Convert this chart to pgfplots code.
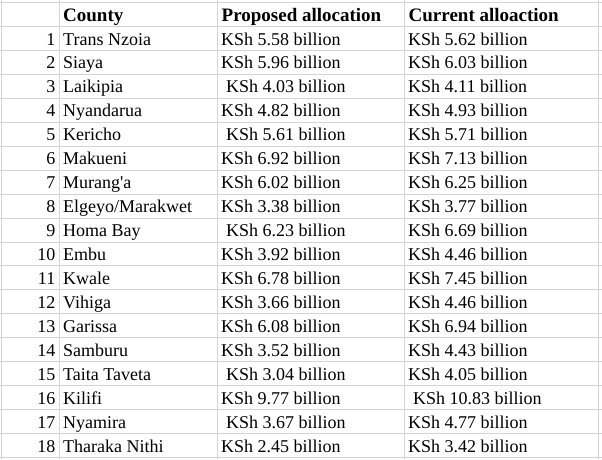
\documentclass[border=0pt]{standalone}
\usepackage{pgfplots}
\pgfplotsset{compat=1.18}
\usepackage{fontspec}
\setmainfont{Liberation Serif}
\definecolor{gridc}{HTML}{D4D4D4}
\begin{document}
\fontsize{18}{22}\selectfont
\begin{tikzpicture}
\begin{axis}[
  x=1pt, y=1pt, y dir=reverse,
  xmin=0, xmax=602, ymin=0, ymax=459,
  scale only axis,
  axis background/.style={fill=white},
  axis line style={draw=none},
  major tick length=0pt,
  xticklabels={}, yticklabels={},
  tick label style={inner sep=0pt},
  xtick={1.5,59.5,217.5,404,598.5},
  ytick={2.5,26.45,50.4,74.35,98.3,122.25,146.2,170.15,194.1,218.05,242,265.95,289.9,313.85,337.8,361.75,385.7,409.65,433.6,457.55},
  grid=major,
  grid style={color=gridc, line width=1pt},
  clip=false,
  every node near coord/.append style={font=\fontsize{18}{22}\selectfont, inner sep=0pt, text=black},
]
\coordinate (ll) at (axis cs:0,459);
\coordinate (ur) at (axis cs:602,0);
% row numbers
\addplot[draw=none, mark=none, nodes near coords, point meta=explicit symbolic,
  every node near coord/.append style={anchor=base east}]
  table[col sep=comma, row sep=\\, meta=label] {
x,y,label\\
55.5,45,1\\
55.5,68.95,2\\
55.5,92.9,3\\
55.5,116.85,4\\
55.5,140.8,5\\
55.5,164.75,6\\
55.5,188.7,7\\
55.5,212.65,8\\
55.5,236.6,9\\
55.5,260.55,10\\
55.5,284.5,11\\
55.5,308.45,12\\
55.5,332.4,13\\
55.5,356.35,14\\
55.5,380.3,15\\
55.5,404.25,16\\
55.5,428.2,17\\
55.5,452.15,18\\
};
% header
\addplot[draw=none, mark=none, nodes near coords, point meta=explicit symbolic,
  every node near coord/.append style={anchor=base west, font=\fontsize{19}{23}\selectfont\bfseries}]
  table[col sep=comma, row sep=\\, meta=label] {
x,y,label\\
63,21.3,County\\
221.5,21.3,Proposed allocation\\
408.5,21.3,Current alloaction\\
};
% county
\addplot[draw=none, mark=none, nodes near coords, point meta=explicit symbolic,
  every node near coord/.append style={anchor=base west}]
  table[col sep=comma, row sep=\\, meta=label] {
x,y,label\\
63,45,Trans Nzoia\\
63,68.95,Siaya\\
63,92.9,Laikipia\\
63,116.85,Nyandarua\\
63,140.8,Kericho\\
63,164.75,Makueni\\
63,188.7,Murang\textquotesingle a\\
63,212.65,Elgeyo/Marakwet\\
63,236.6,Homa Bay\\
63,260.55,Embu\\
63,284.5,Kwale\\
63,308.45,Vihiga\\
63,332.4,Garissa\\
63,356.35,Samburu\\
63,380.3,Taita Taveta\\
63,404.25,Kilifi\\
63,428.2,Nyamira\\
63,452.15,Tharaka Nithi\\
};
% proposed
\addplot[draw=none, mark=none, nodes near coords, point meta=explicit symbolic,
  every node near coord/.append style={anchor=base west}]
  table[col sep=comma, row sep=\\, meta=label] {
x,y,label\\
221,45,KSh 5.58 billion\\
221,68.95,KSh 5.96 billion\\
226,92.9,KSh 4.03 billion\\
221,116.85,KSh 4.82 billion\\
226,140.8,KSh 5.61 billion\\
221,164.75,KSh 6.92 billion\\
221,188.7,KSh 6.02 billion\\
221,212.65,KSh 3.38 billion\\
226,236.6,KSh 6.23 billion\\
221,260.55,KSh 3.92 billion\\
221,284.5,KSh 6.78 billion\\
221,308.45,KSh 3.66 billion\\
221,332.4,KSh 6.08 billion\\
221,356.35,KSh 3.52 billion\\
226,380.3,KSh 3.04 billion\\
221,404.25,KSh 9.77 billion\\
226,428.2,KSh 3.67 billion\\
221,452.15,KSh 2.45 billion\\
};
% current
\addplot[draw=none, mark=none, nodes near coords, point meta=explicit symbolic,
  every node near coord/.append style={anchor=base west}]
  table[col sep=comma, row sep=\\, meta=label] {
x,y,label\\
408,45,KSh 5.62 billion\\
408,68.95,KSh 6.03 billion\\
408,92.9,KSh 4.11 billion\\
408,116.85,KSh 4.93 billion\\
408,140.8,KSh 5.71 billion\\
408,164.75,KSh 7.13 billion\\
408,188.7,KSh 6.25 billion\\
408,212.65,KSh 3.77 billion\\
408,236.6,KSh 6.69 billion\\
408,260.55,KSh 4.46 billion\\
408,284.5,KSh 7.45 billion\\
408,308.45,KSh 4.46 billion\\
408,332.4,KSh 6.94 billion\\
408,356.35,KSh 4.43 billion\\
408,380.3,KSh 4.05 billion\\
413,404.25,KSh 10.83 billion\\
408,428.2,KSh 4.77 billion\\
408,452.15,KSh 3.42 billion\\
};
\end{axis}
\pgfresetboundingbox
\path[use as bounding box] (ll) rectangle (ur);
\end{tikzpicture}
\end{document}
